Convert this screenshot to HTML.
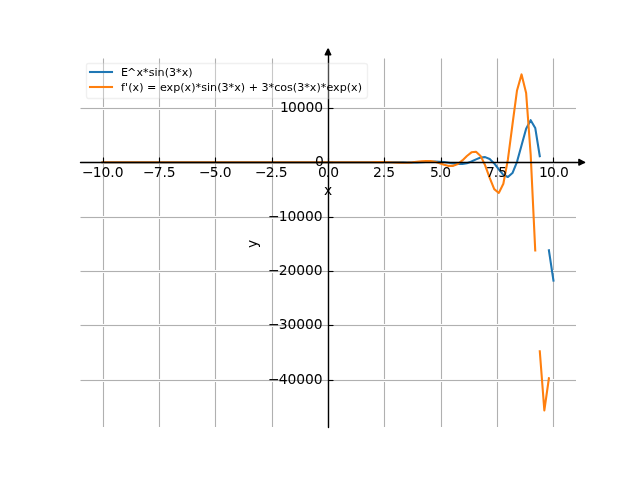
<!DOCTYPE html>
<html><head><meta charset="utf-8"><title>Plot</title>
<style>html,body{margin:0;padding:0;background:#fff;width:640px;height:480px;overflow:hidden}svg{display:block;will-change:transform}text{font-family:"DejaVu Sans","Liberation Sans",sans-serif;fill:#000;white-space:pre}</style>
</head><body>
<svg width="640" height="480" viewBox="0 0 640 480"><defs><clipPath id="c"><rect x="80" y="58" width="496" height="369"/></clipPath></defs>
<path d="M103.5 427.5L103.5 58.5" stroke="#b0b0b0" stroke-width="1.111" clip-path="url(#c)"/>
<path d="M159.5 427.5L159.5 58.5" stroke="#b0b0b0" stroke-width="1.111" clip-path="url(#c)"/>
<path d="M215.5 427.5L215.5 58.5" stroke="#b0b0b0" stroke-width="1.111" clip-path="url(#c)"/>
<path d="M272.5 427.5L272.5 58.5" stroke="#b0b0b0" stroke-width="1.111" clip-path="url(#c)"/>
<path d="M328.5 427.5L328.5 58.5" stroke="#b0b0b0" stroke-width="1.111" clip-path="url(#c)"/>
<path d="M384.5 427.5L384.5 58.5" stroke="#b0b0b0" stroke-width="1.111" clip-path="url(#c)"/>
<path d="M441.5 427.5L441.5 58.5" stroke="#b0b0b0" stroke-width="1.111" clip-path="url(#c)"/>
<path d="M497.5 427.5L497.5 58.5" stroke="#b0b0b0" stroke-width="1.111" clip-path="url(#c)"/>
<path d="M553.5 427.5L553.5 58.5" stroke="#b0b0b0" stroke-width="1.111" clip-path="url(#c)"/>
<rect x="80.5" y="380" width="495.5" height="1" fill="#b0b0b0"/>
<rect x="80.5" y="379" width="495.5" height="1" fill="#fafafa"/><rect x="80.5" y="381" width="495.5" height="1" fill="#fafafa"/>
<rect x="80.5" y="325" width="495.5" height="1" fill="#b0b0b0"/>
<rect x="80.5" y="324" width="495.5" height="1" fill="#fafafa"/><rect x="80.5" y="326" width="495.5" height="1" fill="#fafafa"/>
<rect x="80.5" y="271" width="495.5" height="1" fill="#b0b0b0"/>
<rect x="80.5" y="270" width="495.5" height="1" fill="#fafafa"/><rect x="80.5" y="272" width="495.5" height="1" fill="#fafafa"/>
<rect x="80.5" y="217" width="495.5" height="1" fill="#b0b0b0"/>
<rect x="80.5" y="216" width="495.5" height="1" fill="#fafafa"/><rect x="80.5" y="218" width="495.5" height="1" fill="#fafafa"/>
<rect x="80.5" y="162" width="495.5" height="1" fill="#b0b0b0"/>
<rect x="80.5" y="161" width="495.5" height="1" fill="#fafafa"/><rect x="80.5" y="163" width="495.5" height="1" fill="#fafafa"/>
<rect x="80.5" y="108" width="495.5" height="1" fill="#b0b0b0"/>
<rect x="80.5" y="107" width="495.5" height="1" fill="#fafafa"/><rect x="80.5" y="109" width="495.5" height="1" fill="#fafafa"/>
<path d="M102.545 162.26L107.1 162.26L111.655 162.26L116.209 162.26L120.764 162.26L125.319 162.26L129.873 162.26L134.428 162.26L138.983 162.26L143.537 162.26L148.092 162.26L152.646 162.26L157.201 162.26L161.756 162.26L166.31 162.26L170.865 162.26L175.42 162.26L179.974 162.26L184.529 162.26L189.084 162.26L193.638 162.26L198.193 162.26L202.747 162.26L207.302 162.26L211.857 162.26L216.411 162.26L220.966 162.26L225.521 162.26L230.075 162.26L234.63 162.26L239.185 162.26L243.739 162.26L248.294 162.26L252.848 162.26L257.403 162.26L261.958 162.26L266.512 162.261L271.067 162.261L275.622 162.261L280.176 162.26L284.731 162.26L289.286 162.259L293.84 162.259L298.395 162.259L302.949 162.26L307.504 162.261L312.059 162.262L316.613 162.263L321.168 162.263L325.723 162.262L330.277 162.258L334.832 162.254L339.387 162.251L343.941 162.251L348.496 162.255L353.051 162.263L357.605 162.275L362.16 162.285L366.714 162.288L371.269 162.279L375.824 162.257L380.378 162.225L384.933 162.195L389.488 162.182L394.042 162.2L398.597 162.256L403.152 162.343L407.706 162.433L412.261 162.483L416.815 162.45L421.37 162.309L425.925 162.073L430.479 161.811L435.034 161.637L439.589 161.679L444.143 162.025L448.698 162.657L453.253 163.411L457.807 163.981L462.362 163.998L466.916 163.18L471.471 161.506L476.026 159.366L480.58 157.567L485.135 157.154L489.69 159.017L494.244 163.384L498.799 169.378L503.354 174.898L507.908 177.022L512.463 173.029L517.017 161.814L521.572 145.232L526.127 128.671L530.681 120.192L535.236 127.939L539.791 156.226M548.9 250.3L553.455 280.558" fill="none" stroke="#1f77b4" stroke-width="2.083" stroke-linecap="square" stroke-linejoin="round" clip-path="url(#c)"/>
<path d="M102.545 162.26L107.1 162.26L111.655 162.26L116.209 162.26L120.764 162.26L125.319 162.26L129.873 162.26L134.428 162.26L138.983 162.26L143.537 162.26L148.092 162.26L152.646 162.26L157.201 162.26L161.756 162.26L166.31 162.26L170.865 162.26L175.42 162.26L179.974 162.26L184.529 162.26L189.084 162.26L193.638 162.26L198.193 162.26L202.747 162.26L207.302 162.26L211.857 162.26L216.411 162.26L220.966 162.26L225.521 162.26L230.075 162.26L234.63 162.26L239.185 162.26L243.739 162.26L248.294 162.26L252.848 162.261L257.403 162.261L261.958 162.261L266.512 162.261L271.067 162.26L275.622 162.259L280.176 162.258L284.731 162.258L289.286 162.258L293.84 162.26L298.395 162.262L302.949 162.265L307.504 162.267L312.059 162.267L316.613 162.263L321.168 162.256L325.723 162.248L330.277 162.241L334.832 162.241L339.387 162.25L343.941 162.268L348.496 162.292L353.051 162.312L357.605 162.317L362.16 162.297L366.714 162.249L371.269 162.183L375.824 162.121L380.378 162.096L384.933 162.139L389.488 162.262L394.042 162.445L398.597 162.63L403.152 162.727L407.706 162.645L412.261 162.336L416.815 161.836L421.37 161.293L425.925 160.95L430.479 161.073L435.034 161.834L439.589 163.181L444.143 164.751L448.698 165.892L453.253 165.835L457.807 164.012L462.362 160.431L466.916 155.955L471.471 152.316L476.026 151.699L480.58 155.908L485.135 165.3L489.69 177.89L494.244 189.151L498.799 192.948L503.354 183.719L507.908 159.465L512.463 124.494L517.017 90.469L521.572 74.4L526.127 93.037L530.681 154.599L535.236 250.535M539.791 351.326L544.345 410.4L548.9 378.272" fill="none" stroke="#ff7f0e" stroke-width="2.083" stroke-linecap="square" stroke-linejoin="round" clip-path="url(#c)"/>
<path d="M103.5 162.5L103.5 157.5" stroke="#000000" stroke-width="1.111"/>
<path d="M159.5 162.5L159.5 157.5" stroke="#000000" stroke-width="1.111"/>
<path d="M215.5 162.5L215.5 157.5" stroke="#000000" stroke-width="1.111"/>
<path d="M272.5 162.5L272.5 157.5" stroke="#000000" stroke-width="1.111"/>
<path d="M328.5 162.5L328.5 157.5" stroke="#000000" stroke-width="1.111"/>
<path d="M384.5 162.5L384.5 157.5" stroke="#000000" stroke-width="1.111"/>
<path d="M441.5 162.5L441.5 157.5" stroke="#000000" stroke-width="1.111"/>
<path d="M497.5 162.5L497.5 157.5" stroke="#000000" stroke-width="1.111"/>
<path d="M553.5 162.5L553.5 157.5" stroke="#000000" stroke-width="1.111"/>
<text x="82 92.625 101.5 110.25 114.625" y="177.171" font-size="13.889">−10.0</text>
<text x="143 153.625 162.375 166.75" y="177.2" font-size="13.889">−7.5</text>
<text x="199 209.625 218.375 222.75" y="177.203" font-size="13.889">−5.0</text>
<text x="255 265.625 274.375 278.75" y="177.152" font-size="13.889">−2.5</text>
<text x="318 325.75 330.125" y="177.207" font-size="13.889">0.0</text>
<text x="373 381.75 386.125" y="177.16" font-size="13.889">2.5</text>
<text x="430 437.75 442.125" y="177.201" font-size="13.889">5.0</text>
<text x="486 493.75 498.125" y="177.215" font-size="13.889">7.5</text>
<text x="539 546.875 555.625 560" y="177.181" font-size="13.889">10.0</text>
<path d="M80.5 162.5L576.5 162.5L584.5 162.5" fill="none" stroke="#000000" stroke-width="1.389" stroke-linecap="round" stroke-linejoin="round"/>
<path d="M578.892 159.482L584.447 162.26L578.892 165.038Z" fill="#000000" stroke="#000000" stroke-width="1.389" stroke-linecap="round" stroke-linejoin="round"/>
<text x="324" y="195.111" font-size="13.889">x</text>
<path d="M328.5 380.5L333.5 380.5" stroke="#000000" stroke-width="1.111"/>
<path d="M328.5 325.5L333.5 325.5" stroke="#000000" stroke-width="1.111"/>
<path d="M328.5 271.5L333.5 271.5" stroke="#000000" stroke-width="1.111"/>
<path d="M328.5 217.5L333.5 217.5" stroke="#000000" stroke-width="1.111"/>
<path d="M328.5 162.5L333.5 162.5" stroke="#000000" stroke-width="1.111"/>
<path d="M328.5 108.5L333.5 108.5" stroke="#000000" stroke-width="1.111"/>
<text x="268 278.625 287.375 296.125 304.875 313.625" y="383.744" font-size="13.889">−40000</text>
<text x="268 278.625 287.375 296.125 304.875 313.625" y="329.391" font-size="13.889">−30000</text>
<text x="268 278.625 287.375 296.125 304.875 313.625" y="275.037" font-size="13.889">−20000</text>
<text x="268 278.625 287.5 296.25 305 313.75" y="220.681" font-size="13.889">−10000</text>
<text x="315" y="166.352" font-size="13.889">0</text>
<text x="280 287.875 296.625 305.375 314.125" y="111.971" font-size="13.889">10000</text>
<path d="M328.5 427.5L328.5 58.5L328.5 49.5" fill="none" stroke="#000000" stroke-width="1.389" stroke-linecap="round" stroke-linejoin="round"/>
<path d="M325.222 54.708L328 49.153L330.778 54.708Z" fill="#000000" stroke="#000000" stroke-width="1.389" stroke-linecap="round" stroke-linejoin="round"/>
<text transform="translate(256.574 248.023) rotate(-90)" font-size="13.889">y</text>
<path d="M88.5 98.5L364.5 98.5Q367.5 98.5 367.5 95.5L367.5 65.5Q367.5 63.5 364.5 63.5L88.5 63.5Q86.5 63.5 86.5 65.5L86.5 95.5Q86.5 98.5 88.5 98.5Z" fill="#ffffff" fill-opacity="0.3" stroke="#cccccc" stroke-width="1.389" stroke-opacity="0.3" stroke-linecap="butt" stroke-linejoin="miter"/>
<path d="M90 72L101 72L112 72" fill="none" stroke="#1f77b4" stroke-width="2.083" stroke-linecap="square" stroke-linejoin="round"/>
<text x="121 127 136.375 143 148.625 154.375 157.5 164.625 169 176 181.625 188.25" y="75.624" font-size="11.111">E^x*sin(3*x)</text>
<path d="M90 87L101 87L112 87" fill="none" stroke="#ff7f0e" stroke-width="2.083" stroke-linecap="square" stroke-linejoin="round"/>
<text x="121 125 128.125 132.5 139.125 143.5 147 156.375 159.875 166.5 173.125 180.125 184.5 191.125 195.5 201.125 206.875 210 217.125 221.5 228.5 234.125 240.75 245.125 248.625 258 261.5 268.5 274.125 280.25 287 292.75 297.125 304.125 309.75 316.375 320.75 326.375 333 339.625 346.625 351 357.625" y="91.161" font-size="11.111">f'(x) = exp(x)*sin(3*x) + 3*cos(3*x)*exp(x)</text>
</svg>
</body></html>
